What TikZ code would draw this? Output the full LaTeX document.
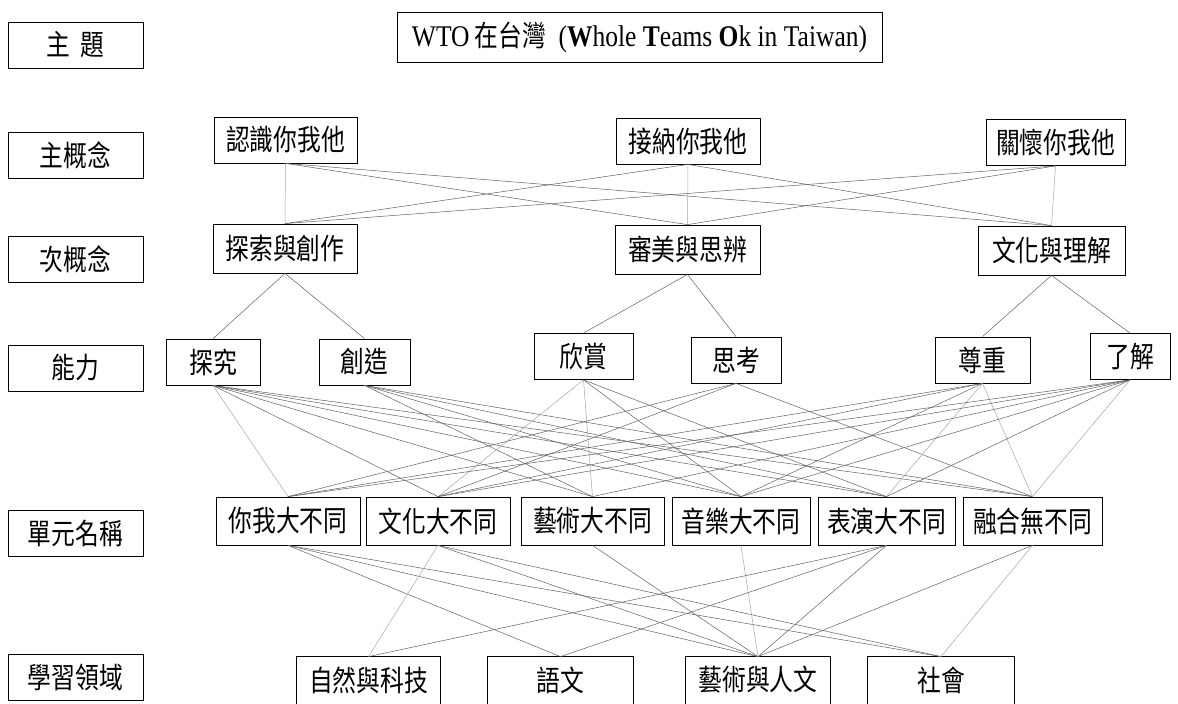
\documentclass[tikz,border=0pt]{standalone}
\usepackage{fontspec}
\setmainfont{Liberation Serif}
\newfontfamily\cjk[FakeStretch=0.82]{Noto Sans CJK TC}
\newfontfamily\lat[FakeStretch=0.85]{Liberation Serif}
\begin{document}
\begin{tikzpicture}[x=1pt,y=-1pt,
  box/.style={draw, line width=0.8pt, inner sep=0pt, minimum height=46pt, font=\cjk\fontsize{29}{30}\selectfont},
  lab/.style={box, minimum width=135pt, font=\cjk\fontsize{29}{30}\selectfont},
  conn/.style={draw=black!62, line width=0.5pt},
  lconn/.style={draw=black!35, line width=0.5pt}]
\fill[white] (0,0) rectangle (1178,704);
\useasboundingbox (0,0) rectangle (1178,704);

% left labels
\node[lab] (L1) at (75.5,45) {主\hspace{0.35em}題};
\node[lab] (L2) at (75.5,155) {主概念};
\node[lab] (L3) at (75.5,259) {次概念};
\node[lab] (L4) at (75.5,368) {能力};
\node[lab] (L5) at (75.5,533) {單元名稱};
\node[lab] (L6) at (75.5,677) {學習領域};

% title
\node[box, minimum width=485pt, minimum height=50pt, font=\lat\fontsize{30}{32}\selectfont] (T) at (639.5,37)
  {WTO\,{\cjk\fontsize{29}{30}\selectfont 在台灣}\ \ (\textbf{W}hole \textbf{T}eams \textbf{O}k in Taiwan)};

% main concepts
\node[box, minimum width=143pt] (m1) at (285.5,140) {認識你我他};
\node[box, minimum width=144pt] (m2) at (688,141) {接納你我他};
\node[box, minimum width=139pt] (m3) at (1055.5,142.5) {關懷你我他};

% sub concepts
\node[box, minimum width=144pt, minimum height=49pt] (s1) at (285,248.5) {探索與創作};
\node[box, minimum width=145pt, minimum height=49pt] (s2) at (687.5,249.5) {審美與思辨};
\node[box, minimum width=147pt, minimum height=49pt] (s3) at (1051.5,250.5) {文化與理解};

% abilities
\node[box, minimum width=94pt] (a1) at (213,362) {探究};
\node[box, minimum width=91pt] (a2) at (364.5,362) {創造};
\node[box, minimum width=99pt] (a3) at (583.5,356.5) {欣賞};
\node[box, minimum width=90pt] (a4) at (736,360) {思考};
\node[box, minimum width=95pt] (a5) at (982.5,360) {尊重};
\node[box, minimum width=80pt] (a6) at (1130,356.5) {了解};

% units
\node[box, minimum width=144pt, minimum height=48pt] (u1) at (288,521) {你我大不同};
\node[box, minimum width=144pt, minimum height=48pt] (u2) at (438,521) {文化大不同};
\node[box, minimum width=143pt, minimum height=48pt] (u3) at (592.5,521) {藝術大不同};
\node[box, minimum width=138pt, minimum height=48pt] (u4) at (741,521) {音樂大不同};
\node[box, minimum width=137pt, minimum height=48pt] (u5) at (886.5,521) {表演大不同};
\node[box, minimum width=139pt, minimum height=48pt] (u6) at (1032.5,521) {融合無不同};

% fields (bottom edge cut by the page)
\node[box, draw=none, minimum width=143pt] (f1) at (368.5,680) {自然與科技};
\node[box, draw=none, minimum width=145pt] (f2) at (560.5,680) {語文};
\node[box, draw=none, minimum width=144pt] (f3) at (758,680) {藝術與人文};
\node[box, draw=none, minimum width=146pt] (f4) at (941,680) {社會};
\foreach \f in {f1,f2,f3,f4}
  \draw[line width=0.8pt] (\f.north west) rectangle ([yshift=-20pt]\f.south east);

% main -> sub
\draw[lconn] (m1.south) -- (s1.north);
\draw[conn] (m1.south) -- (s2.north);
\draw[conn] (m1.south) -- (s3.north);
\draw[conn] (m2.south) -- (s1.north);
\draw[lconn] (m2.south) -- (s2.north);
\draw[conn] (m2.south) -- (s3.north);
\draw[conn] (m3.south) -- (s1.north);
\draw[conn] (m3.south) -- (s2.north);
\draw[lconn] (m3.south) -- (s3.north);

% sub -> ability
\draw[conn] (s1.south) -- (a1.north);
\draw[conn] (s1.south) -- (a2.north);
\draw[conn] (s2.south) -- (a3.north);
\draw[conn] (s2.south) -- (a4.north);
\draw[conn] (s3.south) -- (a5.north);
\draw[conn] (s3.south) -- (a6.north);

% ability -> unit
\draw[lconn] (a1.south) -- (u1.north);
\foreach \u in {u2,u3,u4,u5,u6} \draw[conn] (a1.south) -- (\u.north);
\foreach \u in {u3,u4,u5,u6} \draw[conn] (a2.south) -- (\u.north);
\draw[lconn] (a3.south) -- (u2.north);
\draw[lconn] (a3.south) -- (u3.north);
\draw[conn] (a3.south) -- (u4.north);
\draw[conn] (a3.south) -- (u5.north);
\foreach \u in {u1,u2,u6} \draw[conn] (a4.south) -- (\u.north);
\foreach \u in {u1,u2,u4} \draw[conn] (a5.south) -- (\u.north);
\draw[lconn] (a5.south) -- (u5.north);
\draw[lconn] (a5.south) -- (u6.north);
\foreach \u in {u1,u2,u3,u4,u5} \draw[conn] (a6.south) -- (\u.north);
\draw[lconn] (a6.south) -- (u6.north);

% unit -> field
\foreach \f in {f2,f3,f4} \draw[conn] (u1.south) -- (\f.north);
\draw[lconn] (u2.south) -- (f1.north);
\draw[conn] (u2.south) -- (f3.north);
\draw[conn] (u2.south) -- (f4.north);
\draw[conn] (u3.south) -- (f3.north);
\draw[lconn] (u4.south) -- (f3.north);
\foreach \f in {f1,f2,f3} \draw[conn] (u5.south) -- (\f.north);
\draw[conn] (u6.south) -- (f3.north);
\draw[lconn] (u6.south) -- (f4.north);
\end{tikzpicture}
\end{document}
